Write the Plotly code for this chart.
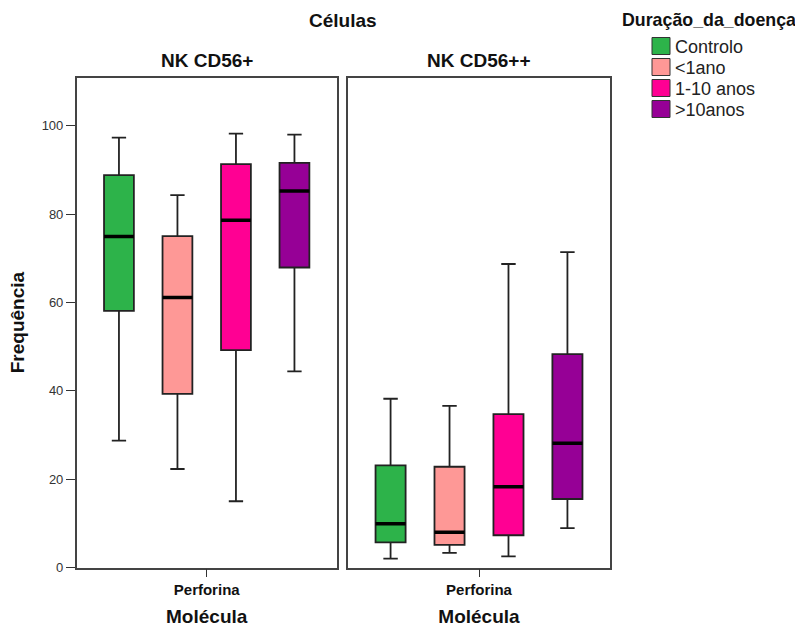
import plotly.graph_objects as go

W, H = 795, 627

groups = ["Controlo", "<1ano", "1-10 anos", ">10anos"]
colors = ["#2db34a", "#fe9896", "#ff0093", "#960096"]
cells = ["NK CD56+", "NK CD56++"]
molecule = ["Perforina"]

# NK CD56+
cd56p_low = [28.7, 22.3, 15.0, 44.4]
cd56p_q1 = [58.1, 39.3, 49.2, 67.9]
cd56p_med = [74.9, 61.1, 78.6, 85.2]
cd56p_q3 = [88.8, 75.0, 91.3, 91.6]
cd56p_up = [97.3, 84.3, 98.2, 98.0]

# NK CD56++
cd56pp_low = [2.0, 3.3, 2.5, 8.9]
cd56pp_q1 = [5.7, 5.1, 7.3, 15.5]
cd56pp_med = [9.9, 8.0, 18.3, 28.1]
cd56pp_q3 = [23.1, 22.8, 34.7, 48.3]
cd56pp_up = [38.2, 36.6, 68.7, 71.4]

y_ticks = [0, 20, 40, 60, 80, 100]

panels = [
    ("x", "y", cd56p_low, cd56p_q1, cd56p_med, cd56p_q3, cd56p_up),
    ("x2", "y2", cd56pp_low, cd56pp_q1, cd56pp_med, cd56pp_q3, cd56pp_up),
]

FONT = "Liberation Sans, Arial, sans-serif"

fig = go.Figure()
for xa, ya, lo, q1, me, q3, up in panels:
    for i, g in enumerate(groups):
        fig.add_trace(go.Box(
            x=molecule, q1=[q1[i]], median=[me[i]], q3=[q3[i]],
            lowerfence=[lo[i]], upperfence=[up[i]],
            name=g, legendgroup=g, showlegend=False,
            offsetgroup=g, alignmentgroup=xa,
            fillcolor=colors[i], line=dict(color="#222222", width=1.8),
            whiskerwidth=0.48, boxpoints=False,
            xaxis=xa, yaxis=ya, hoverinfo="skip",
        ))
    # thick median lines overlaid on the same box slots
    for i, g in enumerate(groups):
        fig.add_trace(go.Box(
            x=molecule, q1=[me[i]], median=[me[i]], q3=[me[i]],
            lowerfence=[me[i]], upperfence=[me[i]],
            name=g + " mediana", showlegend=False,
            offsetgroup=g, alignmentgroup=xa,
            fillcolor="rgba(0,0,0,0)", line=dict(color="#000000", width=3.5),
            whiskerwidth=0, boxpoints=False,
            xaxis=xa, yaxis=ya, hoverinfo="skip",
        ))

px2x = lambda p: p / W
py2y = lambda p: 1 - p / H

y_top = (567.5 - 77.7) / 4.418

axis_common = dict(
    showline=True, mirror=True, linecolor="#444444", linewidth=1.5,
    showgrid=False, zeroline=False,
)

fig.update_layout(
    width=W, height=H,
    margin=dict(l=0, r=0, t=0, b=0),
    paper_bgcolor="white", plot_bgcolor="white",
    boxmode="group", boxgap=0.1, boxgroupgap=0.49,
    showlegend=False,
    font=dict(family=FONT, color="#222222"),
    xaxis=dict(
        domain=[px2x(76.7), px2x(336.7)], anchor="y",
        type="category", categoryarray=molecule, range=[-0.5, 0.5],
        ticks="outside", ticklen=8, tickcolor="#333333", tickwidth=1.2,
        tickfont=dict(size=15, weight="bold", color="#111111", family=FONT),
        title=dict(text="Molécula", font=dict(size=19, weight="bold", color="#111111", family=FONT), standoff=14),
        automargin=False, **axis_common,
    ),
    xaxis2=dict(
        domain=[px2x(348), px2x(610)], anchor="y2",
        type="category", categoryarray=molecule, range=[-0.5, 0.5],
        ticks="outside", ticklen=8, tickcolor="#333333", tickwidth=1.2,
        tickfont=dict(size=15, weight="bold", color="#111111", family=FONT),
        title=dict(text="Molécula", font=dict(size=19, weight="bold", color="#111111", family=FONT), standoff=14),
        automargin=False, **axis_common,
    ),
    yaxis=dict(
        domain=[py2y(567.5), py2y(77.7)], anchor="x",
        range=[0, y_top], tickvals=y_ticks,
        ticks="outside", ticklen=9, tickcolor="#333333", tickwidth=1.2,
        tickfont=dict(size=13, color="#333333", family=FONT),
        title=dict(text="Frequência", font=dict(size=19, weight="bold", color="#111111", family=FONT), standoff=12),
        automargin=False, **axis_common,
    ),
    yaxis2=dict(
        domain=[py2y(567.5), py2y(77.7)], anchor="x2", matches="y",
        range=[0, y_top], showticklabels=False, ticks="",
        **axis_common,
    ),
)

# Titles
fig.add_annotation(text="<b>Células</b>", x=px2x(343), y=py2y(20.5), xref="paper", yref="paper",
                   xanchor="center", yanchor="middle", showarrow=False,
                   font=dict(size=19, color="#111111", family=FONT))
for cx, name in zip([206.7, 479.3], cells):
    fig.add_annotation(text=f"<b>{name}</b>", x=px2x(cx), y=py2y(61), xref="paper", yref="paper",
                       xanchor="center", yanchor="middle", showarrow=False,
                       font=dict(size=19, color="#111111", family=FONT))

# Legend (drawn as swatches + labels)
fig.add_annotation(text="<b>Duração_da_doença</b>", x=px2x(620), y=py2y(20), xref="paper", yref="paper",
                   xanchor="left", yanchor="middle", showarrow=False,
                   font=dict(size=17.8, color="#111111", family=FONT))
for i, (g, c) in enumerate(zip(groups, colors)):
    top = 37.5 + 21 * i
    fig.add_shape(type="rect", xref="paper", yref="paper",
                  x0=px2x(652), x1=px2x(670), y0=py2y(top + 17), y1=py2y(top),
                  fillcolor=c, line=dict(color="#333333", width=1))
    fig.add_annotation(text=g, x=px2x(673), y=py2y(top + 9.5), xref="paper", yref="paper",
                       xanchor="left", yanchor="middle", showarrow=False,
                       font=dict(size=18, color="#222222", family=FONT))

fig.write_html("out.html")
